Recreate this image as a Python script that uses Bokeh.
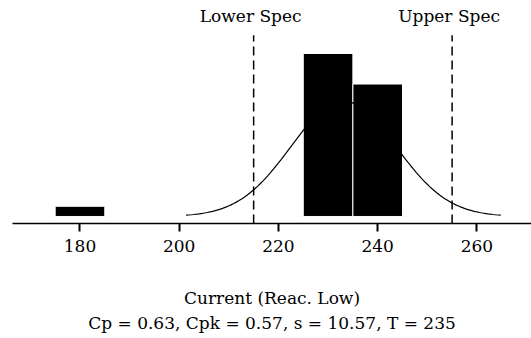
import numpy as np
from bokeh.plotting import figure
from bokeh.models import ColumnDataSource, Label, Title, FixedTicker
from bokeh.embed import file_html
from bokeh.resources import INLINE

# ---- data ----
bin_left = [175, 225, 235]
bin_right = [185, 235, 245]
counts = [1, 16, 13]
n_obs = 30
bin_width = 10
mean_val = 233.1
s_val = 10.57
lower_spec = 215
upper_spec = 255
tick_values = [180, 200, 220, 240, 260]
xlabel = "Current (Reac. Low)"
stats_line = "Cp = 0.63, Cpk = 0.57, s = 10.57, T = 235"

FONT = "DejaVu Serif"
FS = "17px"

p = figure(width=531, height=338, output_backend="svg", toolbar_location=None,
           x_range=(166.4, 271.0), y_range=(-0.69, 21.2),
           min_border_left=12, min_border_right=0, min_border_top=0, min_border_bottom=115)
p.outline_line_color = None
p.grid.visible = False
p.yaxis.visible = False
p.background_fill_color = "white"
p.border_fill_color = "white"

# histogram bars
src = ColumnDataSource(dict(left=bin_left, right=bin_right, top=counts, bottom=[0] * len(counts)))
p.quad(left="left", right="right", top="top", bottom="bottom", source=src,
       fill_color="black", line_color="white", line_width=1)

# fitted normal curve (from displayed mean/s)
xs = np.linspace(mean_val - 3 * s_val, mean_val + 3 * s_val, 120)
ys = n_obs * bin_width * np.exp(-0.5 * ((xs - mean_val) / s_val) ** 2) / (s_val * np.sqrt(2 * np.pi))
curve_src = ColumnDataSource(dict(x=xs, y=ys))
p.line("x", "y", source=curve_src, line_color="black", line_width=1.2)

# spec lines
for xv, lab in [(lower_spec, "Lower Spec"), (upper_spec, "Upper Spec")]:
    p.segment(x0=[xv], x1=[xv], y0=[-0.69], y1=[17.8], line_color="black",
              line_width=1.5, line_dash="9 5")
    p.add_layout(Label(x=xv, y=19.7, x_offset=-3, text=lab, text_align="center",
                       text_baseline="middle", text_font=FONT, text_font_size=FS,
                       text_color="black"))

# x axis
ax = p.xaxis[0]
ax.ticker = FixedTicker(ticks=tick_values)
ax.axis_line_width = 1.5
ax.axis_line_color = "black"
ax.major_tick_line_width = 2
ax.major_tick_out = 8
ax.major_tick_in = 0
ax.minor_tick_line_color = None
ax.major_label_text_font = FONT
ax.major_label_text_font_size = FS
ax.major_label_text_color = "black"
ax.major_label_standoff = 8
ax.axis_label = xlabel
ax.axis_label_text_font = FONT
ax.axis_label_text_font_size = FS
ax.axis_label_text_font_style = "normal"
ax.axis_label_text_color = "black"
ax.axis_label_standoff = 33

t = Title(text=stats_line, align="center", text_font=FONT, text_font_size=FS,
          text_font_style="normal", text_color="black", standoff=0)
p.add_layout(t, "below")

open("out.html", "w").write(file_html(p, INLINE))
